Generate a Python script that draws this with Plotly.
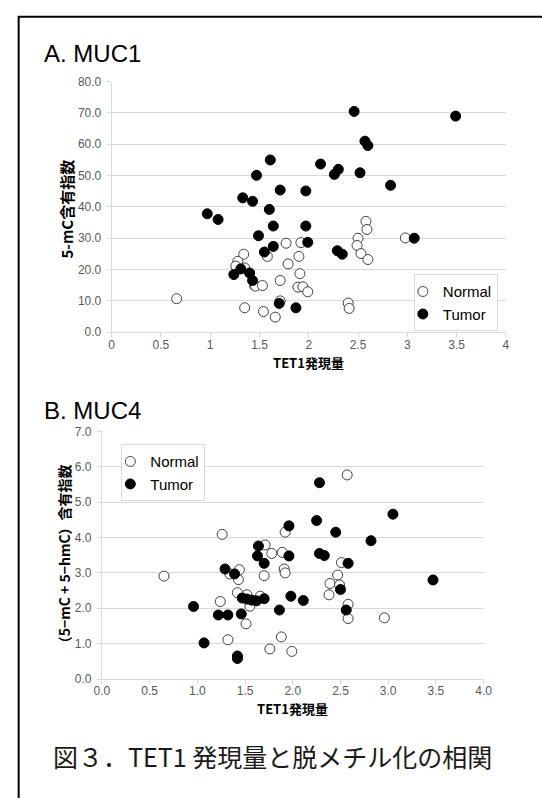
import plotly.graph_objects as go

# ---------------- Panel A: MUC1 (5-mC content index) ----------------
a_normal_x = [1.77, 1.92, 1.34, 1.58, 1.90, 1.28, 1.79, 1.26, 1.35, 1.91, 1.71,
              1.45, 1.46, 1.53, 1.89, 1.94, 1.99, 1.71, 1.35, 1.54, 1.66,
              2.58, 2.59, 2.98, 2.50, 2.49, 2.53, 2.60, 0.66, 2.40, 2.41]
a_normal_y = [28.4, 28.6, 24.9, 24.2, 24.2, 22.6, 21.8, 21.1, 20.5, 18.7, 16.5,
              14.9, 14.7, 14.9, 14.4, 14.5, 12.9, 10.0, 7.8, 6.6, 4.8,
              35.4, 32.8, 30.1, 30.0, 27.7, 25.1, 23.2, 10.7, 9.3, 7.6]

a_tumor_x = [2.46, 3.49, 2.57, 2.60, 1.61, 2.12, 2.30, 2.26, 2.52, 1.47, 2.83,
             1.71, 1.97, 1.33, 1.43, 1.60, 0.97, 1.08, 1.64, 1.97, 1.49, 1.99,
             1.64, 1.55, 2.29, 2.34, 3.07, 1.31, 1.40, 1.24, 1.43, 1.70, 1.87]
a_tumor_y = [70.5, 69.0, 61.0, 59.6, 55.0, 53.7, 52.0, 50.4, 50.9, 50.1, 46.9,
             45.4, 45.1, 42.9, 41.8, 39.2, 37.8, 36.0, 33.9, 33.9, 30.8, 28.7,
             27.4, 25.6, 26.0, 24.9, 30.0, 20.2, 18.9, 18.4, 16.5, 9.2, 7.8]

# ---------------- Panel B: MUC4 ((5-mC + 5-hmC) content index) ----------------
b_normal_x = [1.26, 0.65, 1.44, 1.34, 1.43, 1.42, 1.52, 1.24, 1.55, 1.51, 1.32,
              1.92, 1.71, 1.78, 1.89, 1.91, 1.92, 1.70, 2.51, 2.47, 2.39, 2.49,
              2.38, 2.58, 2.58, 1.66, 1.88, 1.76, 1.99, 2.96, 2.57]
b_normal_y = [4.09, 2.91, 3.09, 2.97, 2.81, 2.44, 2.38, 2.19, 2.06, 1.56, 1.11,
              4.15, 3.79, 3.55, 3.58, 3.11, 3.00, 2.92, 3.29, 2.94, 2.70, 2.66,
              2.38, 2.11, 1.71, 2.34, 1.19, 0.85, 0.78, 1.73, 5.77]

b_tumor_x = [0.96, 1.07, 1.29, 1.39, 1.22, 1.32, 1.46, 1.42, 1.42, 1.47, 1.52,
             1.57, 1.62, 1.70, 1.64, 1.63, 1.70, 1.96, 1.96, 2.25, 2.45, 2.28,
             2.33, 2.58, 2.50, 2.56, 1.98, 2.11, 1.86, 3.05, 2.82, 3.47, 2.28]
b_tumor_y = [2.05, 1.02, 3.11, 2.97, 1.81, 1.81, 1.84, 0.65, 0.58, 2.29, 2.26,
             2.23, 2.21, 2.27, 3.76, 3.48, 3.27, 3.48, 4.33, 4.48, 4.15, 3.55,
             3.49, 3.27, 2.53, 1.95, 2.34, 2.22, 1.95, 4.66, 3.91, 2.80, 5.55]

a_xticks = [0, 0.5, 1, 1.5, 2, 2.5, 3, 3.5, 4]
a_yticks = [0, 10, 20, 30, 40, 50, 60, 70, 80]
b_xticks = [0.0, 0.5, 1.0, 1.5, 2.0, 2.5, 3.0, 3.5, 4.0]
b_yticks = [0, 1, 2, 3, 4, 5, 6, 7]

W, H = 542, 798
def px(x):
    return x / W
def py(y):
    return 1 - y / H

JP = "Noto Sans CJK JP"
LAT = "Liberation Sans, Arial, sans-serif"
GRID = "#d9d9d9"
TICK = "#595959"

normal_marker = dict(size=10, color="white", line=dict(color="#404040", width=1))
tumor_marker = dict(size=10, color="black", line=dict(color="black", width=1))

fig = go.Figure()
fig.add_trace(go.Scatter(x=a_normal_x, y=a_normal_y, mode="markers", name="Normal",
                         marker=normal_marker, xaxis="x", yaxis="y", legend="legend"))
fig.add_trace(go.Scatter(x=a_tumor_x, y=a_tumor_y, mode="markers", name="Tumor",
                         marker=tumor_marker, xaxis="x", yaxis="y", legend="legend"))
fig.add_trace(go.Scatter(x=b_normal_x, y=b_normal_y, mode="markers", name="Normal",
                         marker=normal_marker, xaxis="x2", yaxis="y2", legend="legend2"))
fig.add_trace(go.Scatter(x=b_tumor_x, y=b_tumor_y, mode="markers", name="Tumor",
                         marker=tumor_marker, xaxis="x2", yaxis="y2", legend="legend2"))

axis_common = dict(showline=True, linecolor=GRID, linewidth=1, ticks="outside",
                   ticklen=4, tickcolor=GRID, zeroline=False,
                   tickfont=dict(family=LAT, size=12, color=TICK))

legend_common = dict(bgcolor="white", bordercolor=GRID, borderwidth=1,
                     font=dict(family=LAT, size=15, color="black"),
                     xanchor="left", yanchor="top", itemwidth=30,
                     tracegroupgap=0, indentation=-12)

fig.update_layout(
    width=W, height=H,
    margin=dict(l=0, r=0, t=0, b=0),
    paper_bgcolor="white", plot_bgcolor="white",
    hovermode=False,
    xaxis=dict(domain=[px(107), px(514)], range=[0, 4], tickvals=a_xticks,
               showgrid=False, anchor="y", ticklabelstandoff=-3, **axis_common),
    yaxis=dict(domain=[py(331), py(76)], range=[0, 80], tickvals=a_yticks,
               tickformat=".1f", showgrid=True, gridcolor=GRID, anchor="x",
               ticklabelstandoff=3, **axis_common),
    xaxis2=dict(domain=[px(97), px(491)], range=[0, 4], tickvals=b_xticks,
                tickformat=".1f", showgrid=False, anchor="y2", ticklabelstandoff=-3,
                **axis_common),
    yaxis2=dict(domain=[py(684), py(432)], range=[0, 7], tickvals=b_yticks,
                tickformat=".1f", showgrid=True, gridcolor=GRID, anchor="x2",
                ticklabelstandoff=3, **axis_common),
    legend=dict(x=px(419), y=py(272), **legend_common),
    legend2=dict(x=px(117), y=py(445), **legend_common),
    showlegend=True,
)

annotations = [
    dict(text="A. MUC1", x=px(35), y=py(47), xanchor="left", yanchor="middle",
         font=dict(family=LAT, size=24, color="black")),
    dict(text="B. MUC4", x=px(35), y=py(411), xanchor="left", yanchor="middle",
         font=dict(family=LAT, size=24, color="black")),
    dict(text="<b>TET1発現量</b>", x=px(310), y=py(362), xanchor="center", yanchor="middle",
         font=dict(family=JP, size=13, color="black")),
    dict(text="<b>TET1発現量</b>", x=px(294), y=py(714), xanchor="center", yanchor="middle",
         font=dict(family=JP, size=13, color="black")),
    dict(text="<b>5-mC含有指数</b>", x=px(60), y=py(206), xanchor="center", yanchor="middle",
         textangle=-90, font=dict(family=JP, size=15, color="black")),
    dict(text="<b>（5−mC + 5−hmC）含有指数</b>", x=px(58), y=py(560), xanchor="center",
         yanchor="middle", textangle=-90, font=dict(family=JP, size=14, color="black")),
    dict(text="図３．TET1 発現量と脱メチル化の相関", x=px(44), y=py(762), xanchor="left",
         yanchor="middle", font=dict(family=JP, size=25, color="#1a1a1a")),
]
for a in annotations:
    a.update(xref="paper", yref="paper", showarrow=False)
fig.update_layout(annotations=annotations)

# outer frame of the figure (runs off the right and bottom edges)
fig.add_shape(type="rect", xref="paper", yref="paper",
              x0=px(11), y0=-0.1, x1=1.1, y1=py(10),
              line=dict(color="black", width=2), fillcolor="rgba(0,0,0,0)")

fig.write_html("out.html", config={"displayModeBar": False},
               post_script="document.body.style.margin='0';document.body.style.overflow='hidden';")
